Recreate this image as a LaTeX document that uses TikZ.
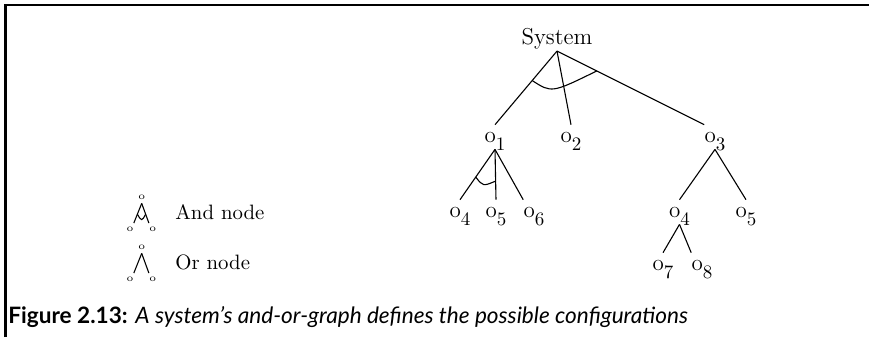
\documentclass[tikz,border=0pt]{standalone}
\usepackage{fontspec}
\newfontfamily\capfont{Lato}
\usetikzlibrary{calc}

\newcommand{\osub}[1]{o\raisebox{-4pt}{\fontsize{9.5}{10}\selectfont #1}}

\begin{document}
\begin{tikzpicture}[
    x=0.5pt, y=-0.5pt,
    obj/.style={
        inner xsep=0pt,
        inner ysep=3.5pt,
        text height=4.95pt,
        text depth=0pt,
        font=\fontsize{11.5}{14}\selectfont,
        anchor=base
    },
    small_o/.style={
        inner xsep=0pt,
        inner ysep=2pt,
        text height=2pt,
        text depth=0pt,
        font=\fontsize{5}{5}\selectfont,
        anchor=base
    },
    legend_text/.style={
        font=\fontsize{10.4}{12}\selectfont,
        anchor=base west,
        inner sep=0pt
    },
    link/.style={line width=0.55pt}
]
    \useasboundingbox (0,0) rectangle (869,338);

    % frame
    \draw[line width=1.25pt] (5.5,337) -- (5.5,5) -- (869,5);

    % root and first level
    \node[obj, inner sep=1pt, text height=, text depth=] (sys) at (557,44) {System};
    \node[obj] (o1) at (495,142) {\osub{1}};
    \node[obj] (o2) at (571,142) {\osub{2}};
    \node[obj] (o3) at (715,142) {\osub{3}};

    % second level
    \node[obj] (o4) at (460,217) {\osub{4}};
    \node[obj] (o5) at (496,217) {\osub{5}};
    \node[obj] (o6) at (534,217) {\osub{6}};
    \node[obj] (o4b) at (679.5,217) {\osub{4}};
    \node[obj] (o5b) at (746,217) {\osub{5}};

    % third level
    \node[obj] (o7) at (663,270) {\osub{7}};
    \node[obj] (o8) at (702,270) {\osub{8}};

    % links
    \draw[link] (sys.south) -- (o1.north);
    \draw[link] (sys.south) -- (o2.north);
    \draw[link] (sys.south) -- (o3.north west);
    \draw[link] (o1.south) -- (o4.north);
    \draw[link] (o1.south) -- (o5.north);
    \draw[link] (o1.south) -- (o6.north west);
    \draw[link] (o3.south) -- (o4b.north);
    \draw[link] (o3.south) -- (o5b.north);
    \draw[link] (o4b.south) -- (o7.north);
    \draw[link] (o4b.south) -- (o8.north west);

    % and-arcs
    \draw[link] ($(sys.south)!0.4!(o1.north)$)
        .. controls ($(sys.south)+(-5.4,42)$) .. ($(sys.south)!0.27!(o3.north west)$);
    \draw[link] ($(o1.south)!0.55!(o4.north)$)
        .. controls ($(o1.south)+(-12,37)$) .. ($(o1.south)!0.63!(o5.north)$);

    % legend: and node
    \node[small_o] (and_top) at (141.7,199) {o};
    \node[small_o] (and_left) at (130,231.5) {o};
    \node[small_o] (and_right) at (152.7,231.5) {o};
    \draw[link] (and_top.south) -- (and_left.north east);
    \draw[link] (and_top.south) -- (and_right.north west);
    \draw[link] ($(and_top.south)!0.55!(and_left.north east)$)
        .. controls ($(and_top.south)+(0,18)$) .. ($(and_top.south)!0.55!(and_right.north west)$);
    \node[legend_text] (and_label) at (175,219) {And node};

    % legend: or node
    \node[small_o] (or_top) at (141.7,249) {o};
    \node[small_o] (or_left) at (130,281.5) {o};
    \node[small_o] (or_right) at (152.7,281.5) {o};
    \draw[link] (or_top.south) -- (or_left.north east);
    \draw[link] (or_top.south) -- (or_right.north west);
    \node[legend_text] (or_label) at (175,269) {Or node};

    % caption
    \node[anchor=base west, inner sep=0pt, font=\capfont\fontsize{11.3}{13}\selectfont] (caption) at (8,323)
        {\textbf{Figure 2.13:} \textit{A system’s and-or-graph defines the possible configurations}};

\end{tikzpicture}
\end{document}
